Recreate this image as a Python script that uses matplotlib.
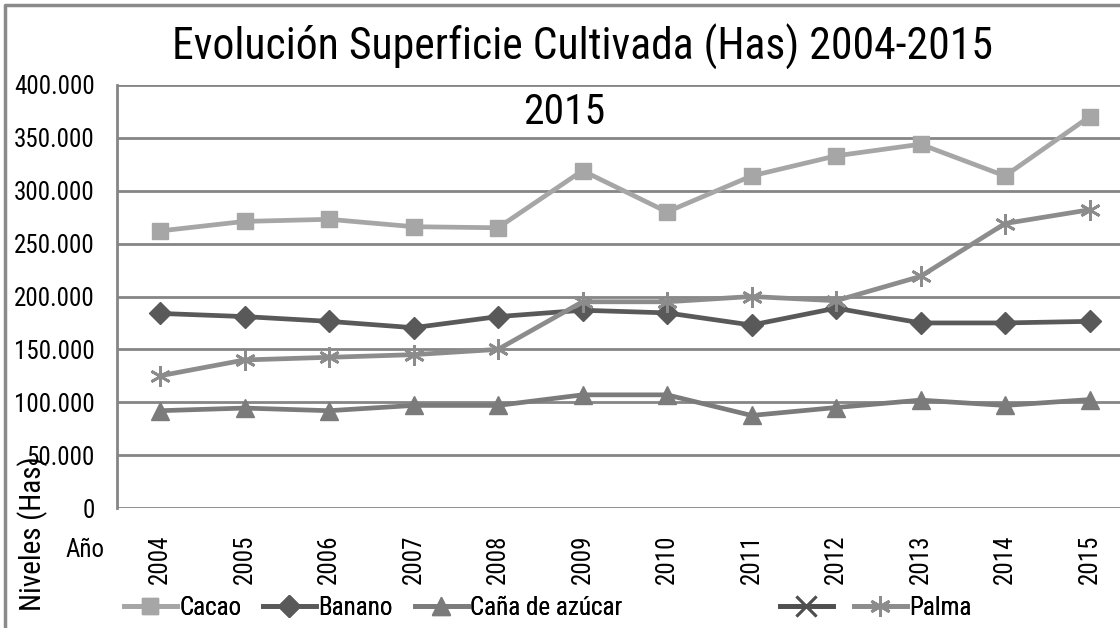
import matplotlib
matplotlib.use("Agg")
import matplotlib.pyplot as plt
from matplotlib.lines import Line2D
from matplotlib.ticker import FuncFormatter
from matplotlib import font_manager as fm

_names = {f.name for f in fm.fontManager.ttflist}
_font = next((n for n in ['Liberation Sans Narrow', 'Arial Narrow', 'Roboto Condensed',
                          'Archivo Narrow', 'Liberation Sans'] if n in _names), 'DejaVu Sans')
plt.rcParams['font.family'] = [_font, 'DejaVu Sans']

years = ['2004', '2005', '2006', '2007', '2008', '2009', '2010', '2011', '2012', '2013', '2014', '2015']
cacao = [262000, 271000, 273000, 266000, 265000, 319000, 280000, 314000, 333000, 344000, 314000, 370000]
banano = [184000, 181000, 176500, 170500, 181000, 187000, 184500, 173000, 189000, 175000, 175000, 176500]
cana = [92000, 94500, 92000, 97000, 97000, 107000, 107000, 87500, 95000, 102000, 97000, 102500]
palma = [125000, 140000, 142500, 145000, 150000, 195000, 195000, 200000, 196000, 219000, 269000, 282000]
unnamed = []

W, H = 1120, 628
fig = plt.figure(figsize=(W / 100, H / 100), dpi=100)
fig.patch.set_facecolor('white')

AX_L, AX_T, AX_B = 117, 85, 508
ax = fig.add_axes([AX_L / W, (H - AX_B) / H, (W - AX_L) / W, (AX_B - AX_T) / H])
x = list(range(len(years)))

c_cacao = '#a6a6a6'
c_banano = '#595959'
c_cana = '#7b7b7b'
c_palma = '#8c8c8c'
c_x = '#4f4f4f'
asterisk = (6, 2, 0)

l_cacao, = ax.plot(x, cacao, color=c_cacao, lw=3.4, marker='s', ms=11.5, mfc=c_cacao, mec=c_cacao, zorder=3)
l_banano, = ax.plot(x, banano, color=c_banano, lw=3.4, marker='D', ms=11, mfc=c_banano, mec=c_banano, zorder=3)
l_cana, = ax.plot(x, cana, color=c_cana, lw=3.4, marker='^', ms=13, mfc=c_cana, mec=c_cana, zorder=3)
l_palma, = ax.plot(x, palma, color=c_palma, lw=3.4, marker=asterisk, ms=15, mew=2, mfc=c_palma, mec=c_palma, zorder=3)
l_x, = ax.plot(unnamed, unnamed, color=c_x, lw=3.4, marker='x', ms=14, mew=2)

spacing = 84.5
ax.set_xlim((AX_L - 160) / spacing, (W - 160) / spacing)
ax.set_ylim(0, 400000)
ax.set_yticks(range(0, 400001, 50000))
ax.yaxis.set_major_formatter(FuncFormatter(lambda v, p: f"{int(v):,}".replace(',', '.')))
ax.set_xticks(x)
ax.set_xticklabels(years, rotation=90)
ax.tick_params(axis='both', length=0, labelsize=18, colors='black')
ax.tick_params(axis='y', pad=16)
ax.tick_params(axis='x', pad=19)

ax.grid(axis='y', color='#858585', lw=2)
ax.set_axisbelow(True)
for s in ['top', 'right', 'bottom']:
    ax.spines[s].set_visible(False)
ax.spines['left'].set_color('#858585')
ax.spines['left'].set_linewidth(2)

fig.text(583 / W, 1 - 47 / H, 'Evolución Superficie Cultivada (Has) 2004-2015', ha='center', va='center', fontsize=31.5)
fig.text(564 / W, 1 - 112 / H, '2015', ha='center', va='center', fontsize=30)
fig.text(85 / W, 1 - 550 / H, 'Año', ha='center', va='center', fontsize=18)
fig.text(33 / W, 1 - 534 / H, 'Niveles (Has)', ha='center', va='center', fontsize=21, rotation=90)

# outer frame
fig.add_artist(Line2D([5 / W, 5 / W, 1.0], [0, 1 - 5 / H, 1 - 5 / H], transform=fig.transFigure,
                      color='#8a8a8a', lw=2.5))

LEG_Y = 608
entries = [(l_cacao, 'Cacao', 124), (l_banano, 'Banano', 263), (l_cana, 'Caña de azúcar', 415),
           (l_x, '', 780), (l_palma, 'Palma', 854)]
for handle, label, xpix in entries:
    lg = fig.legend([handle], [label], loc='center left', bbox_to_anchor=(xpix / W, 1 - LEG_Y / H),
                    frameon=False, fontsize=18, handlelength=2.1, handletextpad=0.12,
                    borderpad=0, borderaxespad=0)
    fig.add_artist(lg)

fig.savefig('out.png', dpi=100, facecolor='white')
